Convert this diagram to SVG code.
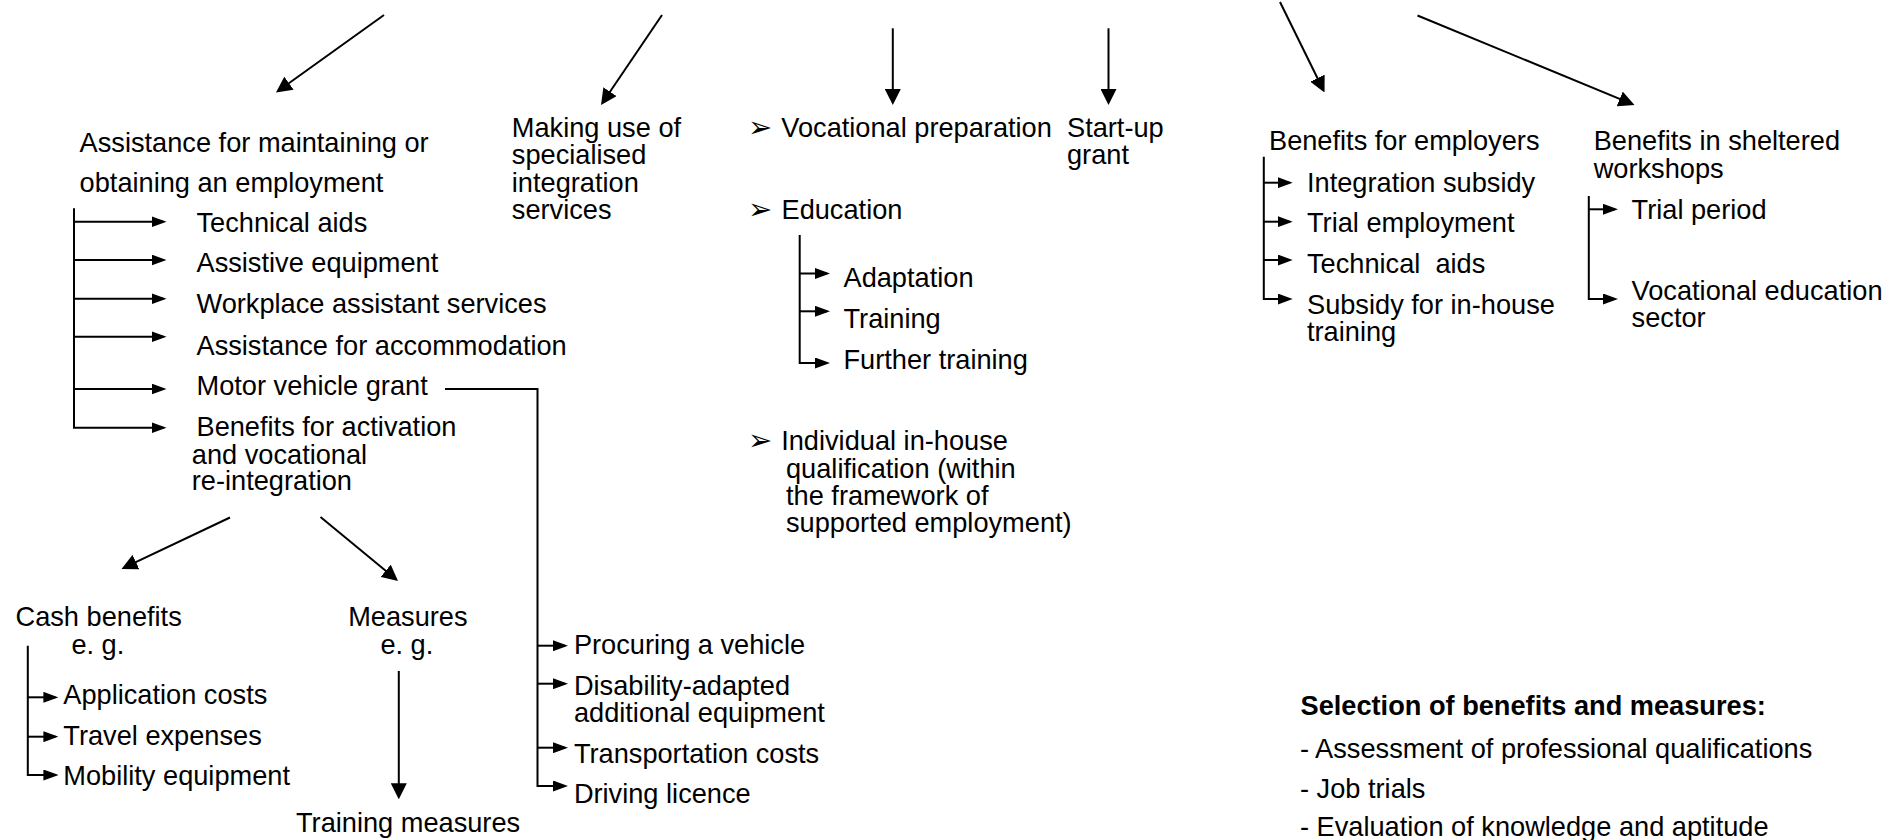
<svg xmlns="http://www.w3.org/2000/svg" width="1899" height="840" viewBox="0 0 1899 840">
<style>
.t{font-family:"Liberation Sans",Arial,sans-serif;font-size:27.2px;fill:#000}
.b{font-family:"Liberation Sans",Arial,sans-serif;font-size:27.2px;font-weight:bold;fill:#000}
.bul{font-family:"DejaVu Sans",sans-serif;font-size:29px;fill:#000}
.c line,.c path{stroke:#000;stroke-width:2;fill:none}
.big{marker-end:url(#big)}
.sm{marker-end:url(#sm)}
</style>
<defs>
<marker id="big" markerWidth="16" markerHeight="16" refX="13" refY="8" orient="auto" markerUnits="userSpaceOnUse"><path d="M0,0 L16,8 L0,16 z" fill="#000"/></marker>
<marker id="sm" markerWidth="15" markerHeight="11" refX="12" refY="5.5" orient="auto" markerUnits="userSpaceOnUse"><path d="M0,0 L15,5.5 L0,11 z" fill="#000"/></marker>
</defs>
<rect width="1899" height="840" fill="#fff"/>
<g id="connectors" class="c">
<line class="big" x1="384" y1="15" x2="278.4" y2="90.75"/>
<line class="big" x1="662" y1="15" x2="602.7" y2="102.5"/>
<line class="big" x1="892.8" y1="28.3" x2="892.8" y2="102"/>
<line class="big" x1="1108.5" y1="28.3" x2="1108.5" y2="102"/>
<line class="big" x1="1280" y1="2" x2="1323.2" y2="89.8"/>
<line class="big" x1="1417.5" y1="15.5" x2="1631.7" y2="103.9"/>
<line class="big" x1="230" y1="517.5" x2="124.2" y2="567.7"/>
<line class="big" x1="320.5" y1="517" x2="395.7" y2="579.1"/>
<line class="big" x1="398.8" y1="671" x2="398.8" y2="796.3"/>
<path class="sm" d="M74,208.3 V427.7 H163.5"/>
<line class="sm" x1="74" y1="221.7" x2="163.5" y2="221.7"/>
<line class="sm" x1="74" y1="260" x2="163.5" y2="260"/>
<line class="sm" x1="74" y1="298.7" x2="163.5" y2="298.7"/>
<line class="sm" x1="74" y1="336.7" x2="163.5" y2="336.7"/>
<line class="sm" x1="74" y1="389" x2="163.5" y2="389"/>
<path class="sm" d="M27.8,645.7 V775 H55.4"/>
<line class="sm" x1="27.8" y1="697.3" x2="55.4" y2="697.3"/>
<line class="sm" x1="27.8" y1="736.7" x2="55.4" y2="736.7"/>
<path class="sm" d="M445,389 H537.5 V786 H565"/>
<line class="sm" x1="537.5" y1="645.7" x2="565" y2="645.7"/>
<line class="sm" x1="537.5" y1="683.7" x2="565" y2="683.7"/>
<line class="sm" x1="537.5" y1="747.7" x2="565" y2="747.7"/>
<path class="sm" d="M799.7,235 V363 H827"/>
<line class="sm" x1="799.7" y1="273.5" x2="827" y2="273.5"/>
<line class="sm" x1="799.7" y1="311.3" x2="827" y2="311.3"/>
<path class="sm" d="M1263.8,156.7 V299 H1289.7"/>
<line class="sm" x1="1263.8" y1="182.7" x2="1289.7" y2="182.7"/>
<line class="sm" x1="1263.8" y1="221.7" x2="1289.7" y2="221.7"/>
<line class="sm" x1="1263.8" y1="260" x2="1289.7" y2="260"/>
<path class="sm" d="M1588.8,196 V299 H1615"/>
<line class="sm" x1="1588.8" y1="209.3" x2="1615" y2="209.3"/>
</g>
<g id="n-assistance">
<text class="t" x="79.6" y="151.5">Assistance for maintaining or<tspan x="79.6" y="192">obtaining an employment</tspan></text>
</g>
<g id="n-technical-aids"><text class="t" x="196.5" y="231.5">Technical aids</text></g>
<g id="n-assistive"><text class="t" x="196.5" y="272">Assistive equipment</text></g>
<g id="n-workplace"><text class="t" x="196.5" y="313">Workplace assistant services</text></g>
<g id="n-accommodation"><text class="t" x="196.5" y="354.5">Assistance for accommodation</text></g>
<g id="n-motor"><text class="t" x="196.5" y="395">Motor vehicle grant</text></g>
<g id="n-activation">
<text class="t" x="196.5" y="436">Benefits for activation<tspan x="191.8" y="463.5">and vocational</tspan><tspan x="191.8" y="490">re-integration</tspan></text>
</g>
<g id="n-cash">
<text class="t" x="15.5" y="625.5">Cash benefits<tspan x="71.4" y="654">e. g.</tspan></text>
</g>
<g id="n-measures">
<text class="t" x="348.2" y="625.5">Measures<tspan x="380.4" y="654">e. g.</tspan></text>
</g>
<g id="n-application"><text class="t" x="63.3" y="704">Application costs</text></g>
<g id="n-travel"><text class="t" x="63.3" y="744.5">Travel expenses</text></g>
<g id="n-mobility"><text class="t" x="63.3" y="785">Mobility equipment</text></g>
<g id="n-training-measures"><text class="t" x="296" y="832">Training measures</text></g>
<g id="n-procuring"><text class="t" x="573.9" y="653.5">Procuring a vehicle</text></g>
<g id="n-disability">
<text class="t" x="573.9" y="694.5">Disability-adapted<tspan x="573.9" y="721.5">additional equipment</tspan></text>
</g>
<g id="n-transport"><text class="t" x="573.9" y="762.5">Transportation costs</text></g>
<g id="n-driving"><text class="t" x="573.9" y="803">Driving licence</text></g>
<g id="n-specialised">
<text class="t" x="511.8" y="136.5">Making use of<tspan x="511.8" y="164">specialised</tspan><tspan x="511.8" y="191.5">integration</tspan><tspan x="511.8" y="218.5">services</tspan></text>
</g>
<g id="n-vocational-prep">
<text class="bul" x="748" y="136.5">➢</text>
<text class="t" x="781.3" y="136.5">Vocational preparation</text>
</g>
<g id="n-education">
<text class="bul" x="748" y="219">➢</text>
<text class="t" x="781.5" y="219">Education</text>
</g>
<g id="n-adaptation"><text class="t" x="843.5" y="287">Adaptation</text></g>
<g id="n-training"><text class="t" x="843.5" y="327.5">Training</text></g>
<g id="n-further"><text class="t" x="843.5" y="369">Further training</text></g>
<g id="n-individual">
<text class="bul" x="748" y="449.5">➢</text>
<text class="t" x="781.2" y="449.5">Individual in-house<tspan x="786" y="477.5">qualification (within</tspan><tspan x="786" y="504.5">the framework of</tspan><tspan x="786" y="531.5">supported employment)</tspan></text>
</g>
<g id="n-startup">
<text class="t" x="1067" y="136.5">Start-up<tspan x="1067" y="164">grant</tspan></text>
</g>
<g id="n-employers"><text class="t" x="1269" y="150">Benefits for employers</text></g>
<g id="n-integration-subsidy"><text class="t" x="1307" y="191.5">Integration subsidy</text></g>
<g id="n-trial-employment"><text class="t" x="1307" y="232">Trial employment</text></g>
<g id="n-technical-aids-2"><text class="t" x="1307" y="273" style="white-space:pre">Technical  aids</text></g>
<g id="n-subsidy">
<text class="t" x="1307" y="314">Subsidy for in-house<tspan x="1307" y="340.5">training</tspan></text>
</g>
<g id="n-sheltered">
<text class="t" x="1593.7" y="150">Benefits in sheltered<tspan x="1593.7" y="177.5">workshops</tspan></text>
</g>
<g id="n-trial-period"><text class="t" x="1631.6" y="218.5">Trial period</text></g>
<g id="n-vocational-education">
<text class="t" x="1631.6" y="299.5">Vocational education<tspan x="1631.6" y="327">sector</tspan></text>
</g>
<g id="n-selection">
<text class="b" x="1300.5" y="715">Selection of benefits and measures:</text>
<text class="t" x="1300" y="757.5">- Assessment of professional qualifications</text>
<text class="t" x="1300" y="797.5">- Job trials</text>
<text class="t" x="1300" y="836">- Evaluation of knowledge and aptitude</text>
</g>
</svg>
